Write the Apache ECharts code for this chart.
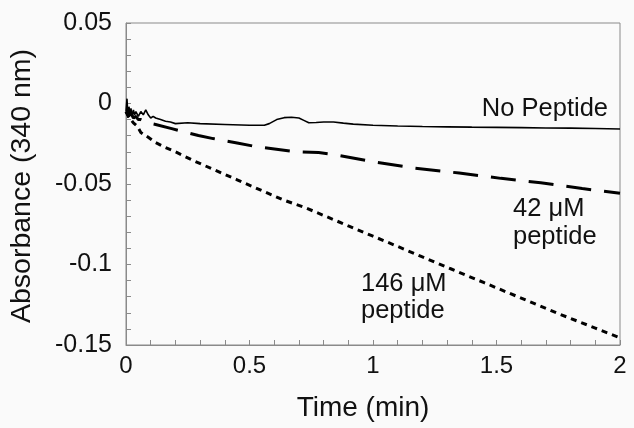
<!DOCTYPE html>
<html>
<head>
<meta charset="utf-8">
<script src="https://cdn.jsdelivr.net/npm/echarts@6/dist/echarts.min.js"></script>
<style>
html,body{margin:0;padding:0;background:#fafafa;}
#c{width:634px;height:428px;}
</style>
</head>
<body>
<div id="c"></div>
<script>
// Data
const xTicks = [0, 0.5, 1, 1.5, 2];
const yTicks = [-0.15, -0.1, -0.05, 0, 0.05];

const noPeptideTime = [0, 0.004, 0.008, 0.012, 0.016, 0.02, 0.025, 0.03, 0.035, 0.04, 0.05, 0.06, 0.07, 0.08, 0.09, 0.1, 0.11, 0.12, 0.14, 0.16, 0.18, 0.2, 0.25, 0.3, 0.4, 0.5, 0.56, 0.58, 0.61, 0.64, 0.67, 0.7, 0.72, 0.74, 0.77, 0.8, 0.84, 0.88, 0.92, 1.0, 1.1, 1.2, 1.3, 1.4, 1.5, 1.6, 1.7, 1.8, 1.9, 2.0];
const noPeptideAbs = [-0.005, 0.003, -0.009, -0.002, -0.007, -0.003, -0.008, -0.004, -0.007, -0.005, -0.008, -0.005, -0.007, -0.004, -0.007, -0.009, -0.008, -0.009, -0.010, -0.011, -0.0115, -0.0125, -0.012, -0.0125, -0.013, -0.0135, -0.0135, -0.0125, -0.0100, -0.0088, -0.0085, -0.0090, -0.0105, -0.0120, -0.0118, -0.0115, -0.0115, -0.0122, -0.0128, -0.0135, -0.0140, -0.0143, -0.0145, -0.0147, -0.0148, -0.0150, -0.0152, -0.0153, -0.0155, -0.0158];

const pep42Time = [0, 0.01, 0.02, 0.03, 0.04, 0.05, 0.06, 0.084, 0.12, 0.185, 0.293, 0.353, 0.45, 0.526, 0.687, 0.78, 0.847, 1.016, 1.157, 1.349, 1.518, 1.679, 1.847, 2.0];
const pep42Abs = [-0.005, -0.008, -0.006, -0.009, -0.008, -0.010, -0.010, -0.0118, -0.013, -0.0156, -0.0199, -0.0218, -0.0245, -0.0268, -0.0300, -0.0305, -0.0318, -0.0366, -0.0399, -0.0432, -0.0465, -0.0492, -0.0528, -0.0558];

const pep146Time = [0, 0.01, 0.02, 0.03, 0.045, 0.06, 0.09, 0.12, 0.16, 0.2, 0.273, 0.35, 0.45, 0.55, 0.635, 0.727, 0.8, 0.9, 1.0, 1.1, 1.2, 1.317, 1.45, 1.6, 1.75, 1.9, 2.0];
const pep146Abs = [-0.005, -0.008, -0.010, -0.012, -0.014, -0.018, -0.021, -0.0243, -0.0274, -0.030, -0.0355, -0.0407, -0.0474, -0.0541, -0.0598, -0.0648, -0.0695, -0.076, -0.0824, -0.0888, -0.0953, -0.1028, -0.1113, -0.1209, -0.1305, -0.1395, -0.1455];

const labels = {
  none: 'No Peptide',
  p42: ['42 μM', 'peptide'],
  p146: ['146 μM', 'peptide']
};

function zip(a, b) { return a.map((t, i) => [t, b[i]]); }

const FONT = "'Liberation Sans', Arial, Helvetica, sans-serif";
const AX = '#8a8a8a';
const chart = echarts.init(document.getElementById('c'), null, {renderer: 'canvas'});

chart.setOption({
  backgroundColor: '#fafafa',
  animation: false,
  grid: {left: 122, right: 14, top: 23, bottom: 83, show: true, borderColor: AX, borderWidth: 1, backgroundColor: 'transparent'},
  xAxis: {
    type: 'value', min: xTicks[0], max: xTicks[xTicks.length - 1], interval: 0.5,
    name: 'Time (min)', nameLocation: 'middle', nameGap: 49,
    nameTextStyle: {fontFamily: FONT, fontSize: 28, color: '#111', padding: [0, 20, 0, 0]},
    axisLine: {show: true, onZero: false, lineStyle: {color: AX, width: 1}},
    axisTick: {show: true, inside: true, length: 5, lineStyle: {color: AX}},
    minorTick: {show: true, splitNumber: 5, length: 5, lineStyle: {color: AX}},
    splitLine: {show: false},
    axisLabel: {fontFamily: FONT, fontSize: 24, color: '#111', margin: 9,
      formatter: v => String(+v.toFixed(2))}
  },
  yAxis: {
    type: 'value', min: yTicks[0], max: yTicks[yTicks.length - 1], interval: 0.05,
    name: 'Absorbance (340 nm)', nameLocation: 'middle', nameGap: 89, nameRotate: 90,
    nameTextStyle: {fontFamily: FONT, fontSize: 28.5, color: '#111', padding: [0, 4, 0, 0]},
    axisLine: {show: true, onZero: false, lineStyle: {color: AX, width: 1}},
    axisTick: {show: true, inside: true, length: 5, lineStyle: {color: AX}},
    minorTick: {show: true, splitNumber: 5, length: 5, lineStyle: {color: AX}},
    splitLine: {show: false},
    axisLabel: {fontFamily: FONT, fontSize: 25, color: '#111', margin: 14,
      formatter: v => String(+v.toFixed(2))}
  },
  series: [
    {type: 'line', name: labels.none, data: zip(noPeptideTime, noPeptideAbs), showSymbol: false,
     lineStyle: {color: '#000', width: 1.6, type: 'solid'}},
    {type: 'line', name: '42', data: zip(pep42Time, pep42Abs), showSymbol: false,
     lineStyle: {color: '#000', width: 3, type: [25, 13]}},
    {type: 'line', name: '146', data: zip(pep146Time, pep146Abs), showSymbol: false,
     lineStyle: {color: '#000', width: 3, type: [6, 5]}}
  ],
  graphic: [
    {type: 'text', right: 26, top: 96, style: {text: labels.none, font: '25.5px ' + FONT, fill: '#111'}},
    {type: 'text', left: 513, top: 195, style: {text: labels.p42.join('\n'), font: '25.5px ' + FONT, fill: '#111', lineHeight: 28}},
    {type: 'text', left: 361, top: 270, style: {text: labels.p146.join('\n'), font: '25.5px ' + FONT, fill: '#111', lineHeight: 27}}
  ]
});
</script>
</body>
</html>
